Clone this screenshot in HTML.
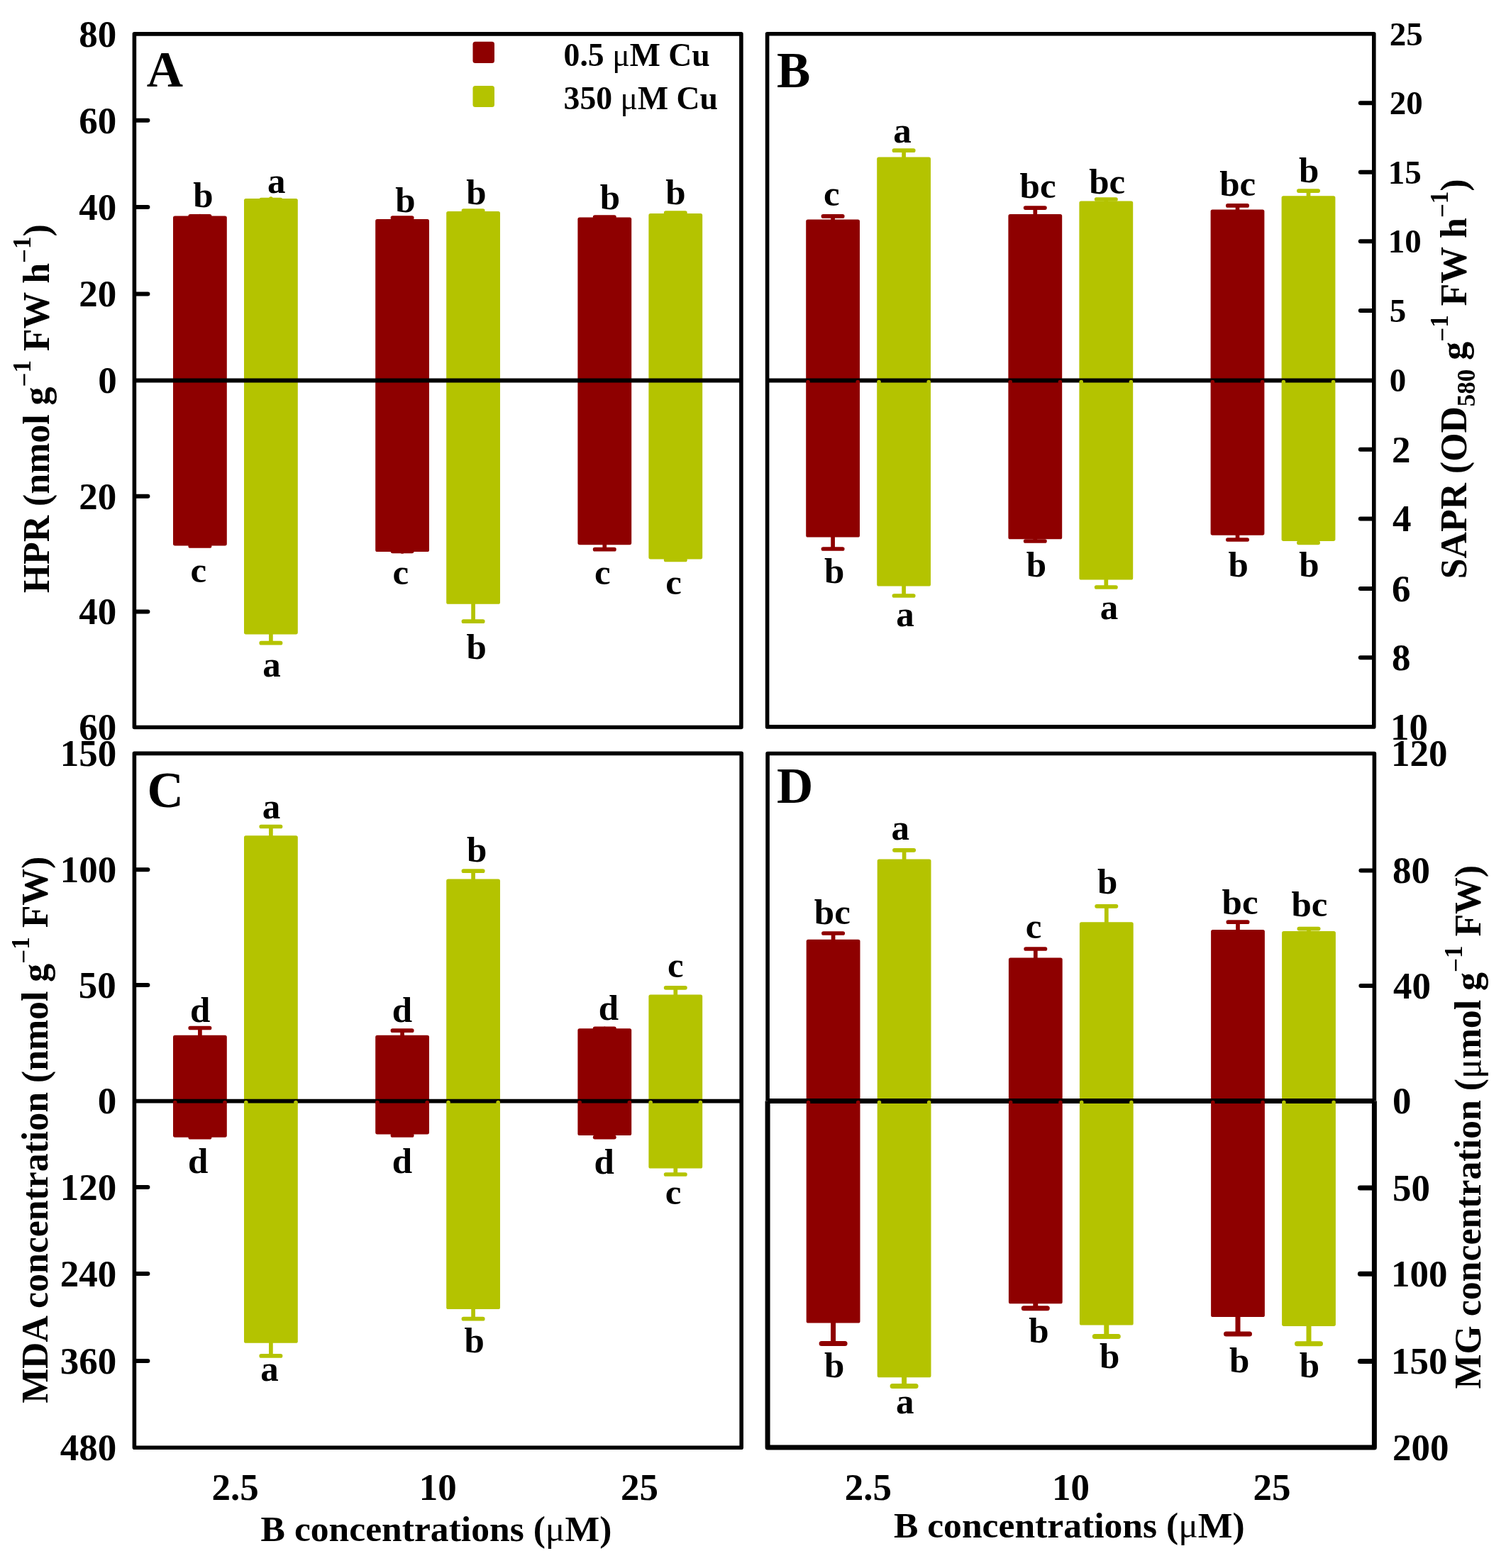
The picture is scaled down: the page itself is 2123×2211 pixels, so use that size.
<!DOCTYPE html><html><head><meta charset="utf-8"><title>Figure</title><style>html,body{margin:0;padding:0;background:#fff;}svg{display:block;}text{font-family:'Liberation Serif', 'Times New Roman', serif;font-weight:bold;fill:#000;}</style></head><body>
<svg width="2123" height="2211" viewBox="0 0 2123 2211">
<rect x="0" y="0" width="2123" height="2211" fill="#fff"/>
<rect x="244" y="304.5" width="75.8" height="464.9" rx="2.6" fill="#8E0000"/>
<path d="M281.9 304.5V304.9M268.25 304.9H295.55" stroke="#8E0000" stroke-width="5.7" stroke-linecap="round" fill="none"/>
<path d="M281.9 769.4V770M268.25 770H295.55" stroke="#8E0000" stroke-width="5.7" stroke-linecap="round" fill="none"/>
<rect x="344" y="280" width="75.8" height="614.4" rx="2.6" fill="#B4C300"/>
<path d="M381.9 280V281.7M368.25 281.7H395.55" stroke="#B4C300" stroke-width="5.7" stroke-linecap="round" fill="none"/>
<path d="M381.9 894.4V906.7M368.25 906.7H395.55" stroke="#B4C300" stroke-width="5.7" stroke-linecap="round" fill="none"/>
<rect x="529.2" y="309.1" width="75.8" height="468.9" rx="2.6" fill="#8E0000"/>
<path d="M567.1 309.1V307.2M553.45 307.2H580.75" stroke="#8E0000" stroke-width="5.7" stroke-linecap="round" fill="none"/>
<path d="M567.1 778V777.3M553.45 777.3H580.75" stroke="#8E0000" stroke-width="5.7" stroke-linecap="round" fill="none"/>
<rect x="629.2" y="298" width="75.8" height="553.8" rx="2.6" fill="#B4C300"/>
<path d="M667.1 298V297M653.45 297H680.75" stroke="#B4C300" stroke-width="5.7" stroke-linecap="round" fill="none"/>
<path d="M667.1 851.8V876.2M653.45 876.2H680.75" stroke="#B4C300" stroke-width="5.7" stroke-linecap="round" fill="none"/>
<rect x="814.4" y="306.6" width="75.8" height="461.6" rx="2.6" fill="#8E0000"/>
<path d="M852.3 306.6V306M838.65 306H865.95" stroke="#8E0000" stroke-width="5.7" stroke-linecap="round" fill="none"/>
<path d="M852.3 768.2V774.7M838.65 774.7H865.95" stroke="#8E0000" stroke-width="5.7" stroke-linecap="round" fill="none"/>
<rect x="914.4" y="301.1" width="75.8" height="487.3" rx="2.6" fill="#B4C300"/>
<path d="M952.3 301.1V300.1M938.65 300.1H965.95" stroke="#B4C300" stroke-width="5.7" stroke-linecap="round" fill="none"/>
<path d="M952.3 788.4V789.5M938.65 789.5H965.95" stroke="#B4C300" stroke-width="5.7" stroke-linecap="round" fill="none"/>
<line x1="189.4" y1="536.5" x2="1044.9" y2="536.5" stroke="#000" stroke-width="5.8"/>
<rect x="189.4" y="47.9" width="855.5" height="977.6" fill="none" stroke="#000" stroke-width="5.6" stroke-linejoin="round"/>
<text x="111.2" y="65.7" font-size="53">80</text>
<line x1="192.4" y1="169.7" x2="208.4" y2="169.7" stroke="#000" stroke-width="6.0" stroke-linecap="round"/>
<text x="111.2" y="187.5" font-size="53">60</text>
<line x1="192.4" y1="292" x2="208.4" y2="292" stroke="#000" stroke-width="6.0" stroke-linecap="round"/>
<text x="111.2" y="309.8" font-size="53">40</text>
<line x1="192.4" y1="414.4" x2="208.4" y2="414.4" stroke="#000" stroke-width="6.0" stroke-linecap="round"/>
<text x="111.2" y="432.2" font-size="53">20</text>
<text x="138.2" y="554.3" font-size="53">0</text>
<line x1="192.4" y1="699.7" x2="208.4" y2="699.7" stroke="#000" stroke-width="6.0" stroke-linecap="round"/>
<text x="111.2" y="717.5" font-size="53">20</text>
<line x1="192.4" y1="862.5" x2="208.4" y2="862.5" stroke="#000" stroke-width="6.0" stroke-linecap="round"/>
<text x="111.2" y="880.3" font-size="53">40</text>
<text x="111.2" y="1043.3" font-size="53">60</text>
<rect x="1136.2" y="309.4" width="75.8" height="448.1" rx="2.6" fill="#8E0000"/>
<path d="M1174.1 309.4V304.9M1160.45 304.9H1187.75" stroke="#8E0000" stroke-width="5.7" stroke-linecap="round" fill="none"/>
<path d="M1174.1 757.5V774M1160.45 774H1187.75" stroke="#8E0000" stroke-width="5.7" stroke-linecap="round" fill="none"/>
<rect x="1236.2" y="221.6" width="75.8" height="604.9" rx="2.6" fill="#B4C300"/>
<path d="M1274.1 221.6V212.2M1260.45 212.2H1287.75" stroke="#B4C300" stroke-width="5.7" stroke-linecap="round" fill="none"/>
<path d="M1274.1 826.5V840M1260.45 840H1287.75" stroke="#B4C300" stroke-width="5.7" stroke-linecap="round" fill="none"/>
<rect x="1421.4" y="302.1" width="75.8" height="458.2" rx="2.6" fill="#8E0000"/>
<path d="M1459.3 302.1V293.1M1445.65 293.1H1472.95" stroke="#8E0000" stroke-width="5.7" stroke-linecap="round" fill="none"/>
<path d="M1459.3 760.3V763M1445.65 763H1472.95" stroke="#8E0000" stroke-width="5.7" stroke-linecap="round" fill="none"/>
<rect x="1521.4" y="283.4" width="75.8" height="534.2" rx="2.6" fill="#B4C300"/>
<path d="M1559.3 283.4V281M1545.65 281H1572.95" stroke="#B4C300" stroke-width="5.7" stroke-linecap="round" fill="none"/>
<path d="M1559.3 817.6V828M1545.65 828H1572.95" stroke="#B4C300" stroke-width="5.7" stroke-linecap="round" fill="none"/>
<rect x="1706.6" y="295.5" width="75.8" height="459.2" rx="2.6" fill="#8E0000"/>
<path d="M1744.5 295.5V289.9M1730.85 289.9H1758.15" stroke="#8E0000" stroke-width="5.7" stroke-linecap="round" fill="none"/>
<path d="M1744.5 754.7V761M1730.85 761H1758.15" stroke="#8E0000" stroke-width="5.7" stroke-linecap="round" fill="none"/>
<rect x="1806.6" y="276.3" width="75.8" height="486.6" rx="2.6" fill="#B4C300"/>
<path d="M1844.5 276.3V269.1M1830.85 269.1H1858.15" stroke="#B4C300" stroke-width="5.7" stroke-linecap="round" fill="none"/>
<path d="M1844.5 762.9V765.3M1830.85 765.3H1858.15" stroke="#B4C300" stroke-width="5.7" stroke-linecap="round" fill="none"/>
<line x1="1081.6" y1="536.5" x2="1936.8" y2="536.5" stroke="#000" stroke-width="5.8"/>
<circle cx="1139" cy="538.5" r="2.8" fill="#8E0000"/>
<circle cx="1209.2" cy="538.5" r="2.8" fill="#8E0000"/>
<circle cx="1239" cy="538.5" r="2.8" fill="#B4C300"/>
<circle cx="1309.2" cy="538.5" r="2.8" fill="#B4C300"/>
<circle cx="1424.2" cy="538.5" r="2.8" fill="#8E0000"/>
<circle cx="1494.4" cy="538.5" r="2.8" fill="#8E0000"/>
<circle cx="1524.2" cy="538.5" r="2.8" fill="#B4C300"/>
<circle cx="1594.4" cy="538.5" r="2.8" fill="#B4C300"/>
<circle cx="1709.4" cy="538.5" r="2.8" fill="#8E0000"/>
<circle cx="1779.6" cy="538.5" r="2.8" fill="#8E0000"/>
<circle cx="1809.4" cy="538.5" r="2.8" fill="#B4C300"/>
<circle cx="1879.6" cy="538.5" r="2.8" fill="#B4C300"/>
<rect x="1081.6" y="47.8" width="855.2" height="977.1" fill="none" stroke="#000" stroke-width="5.6" stroke-linejoin="round"/>
<text x="1958.8" y="63.6" font-size="47">25</text>
<line x1="1933.8" y1="145.2" x2="1917.8" y2="145.2" stroke="#000" stroke-width="6.0" stroke-linecap="round"/>
<text x="1958.8" y="161" font-size="47">20</text>
<line x1="1933.8" y1="242.8" x2="1917.8" y2="242.8" stroke="#000" stroke-width="6.0" stroke-linecap="round"/>
<text x="1956.8" y="258.6" font-size="47">15</text>
<line x1="1933.8" y1="340.2" x2="1917.8" y2="340.2" stroke="#000" stroke-width="6.0" stroke-linecap="round"/>
<text x="1956.8" y="356" font-size="47">10</text>
<line x1="1933.8" y1="438" x2="1917.8" y2="438" stroke="#000" stroke-width="6.0" stroke-linecap="round"/>
<text x="1958.8" y="453.8" font-size="47">5</text>
<text x="1958.8" y="552.3" font-size="47">0</text>
<line x1="1933.8" y1="633.8" x2="1917.8" y2="633.8" stroke="#000" stroke-width="6.0" stroke-linecap="round"/>
<text x="1962" y="651.6" font-size="53">2</text>
<line x1="1933.8" y1="731.5" x2="1917.8" y2="731.5" stroke="#000" stroke-width="6.0" stroke-linecap="round"/>
<text x="1963" y="749.3" font-size="53">4</text>
<line x1="1933.8" y1="830" x2="1917.8" y2="830" stroke="#000" stroke-width="6.0" stroke-linecap="round"/>
<text x="1962" y="847.8" font-size="53">6</text>
<line x1="1933.8" y1="927.2" x2="1917.8" y2="927.2" stroke="#000" stroke-width="6.0" stroke-linecap="round"/>
<text x="1962" y="945" font-size="53">8</text>
<text x="1960" y="1042.7" font-size="53">10</text>
<rect x="244" y="1459.8" width="75.8" height="143.9" rx="2.6" fill="#8E0000"/>
<path d="M281.9 1459.8V1449.5M268.25 1449.5H295.55" stroke="#8E0000" stroke-width="5.7" stroke-linecap="round" fill="none"/>
<path d="M281.9 1603.7V1603.7M268.25 1603.7H295.55" stroke="#8E0000" stroke-width="5.7" stroke-linecap="round" fill="none"/>
<rect x="344" y="1178.3" width="75.8" height="715.5" rx="2.6" fill="#B4C300"/>
<path d="M381.9 1178.3V1165.5M368.25 1165.5H395.55" stroke="#B4C300" stroke-width="5.7" stroke-linecap="round" fill="none"/>
<path d="M381.9 1893.8V1911.9M368.25 1911.9H395.55" stroke="#B4C300" stroke-width="5.7" stroke-linecap="round" fill="none"/>
<rect x="529.2" y="1459.8" width="75.8" height="139.6" rx="2.6" fill="#8E0000"/>
<path d="M567.1 1459.8V1453.2M553.45 1453.2H580.75" stroke="#8E0000" stroke-width="5.7" stroke-linecap="round" fill="none"/>
<path d="M567.1 1599.4V1600.9M553.45 1600.9H580.75" stroke="#8E0000" stroke-width="5.7" stroke-linecap="round" fill="none"/>
<rect x="629.2" y="1239.6" width="75.8" height="606.4" rx="2.6" fill="#B4C300"/>
<path d="M667.1 1239.6V1228.2M653.45 1228.2H680.75" stroke="#B4C300" stroke-width="5.7" stroke-linecap="round" fill="none"/>
<path d="M667.1 1846V1859.7M653.45 1859.7H680.75" stroke="#B4C300" stroke-width="5.7" stroke-linecap="round" fill="none"/>
<rect x="814.4" y="1450.2" width="75.8" height="150.8" rx="2.6" fill="#8E0000"/>
<path d="M852.3 1450.2V1450.3M838.65 1450.3H865.95" stroke="#8E0000" stroke-width="5.7" stroke-linecap="round" fill="none"/>
<path d="M852.3 1601V1603.6M838.65 1603.6H865.95" stroke="#8E0000" stroke-width="5.7" stroke-linecap="round" fill="none"/>
<rect x="914.4" y="1402.5" width="75.8" height="245" rx="2.6" fill="#B4C300"/>
<path d="M952.3 1402.5V1392.8M938.65 1392.8H965.95" stroke="#B4C300" stroke-width="5.7" stroke-linecap="round" fill="none"/>
<path d="M952.3 1647.5V1656M938.65 1656H965.95" stroke="#B4C300" stroke-width="5.7" stroke-linecap="round" fill="none"/>
<line x1="189.4" y1="1552.6" x2="1045.2" y2="1552.6" stroke="#000" stroke-width="5.8"/>
<circle cx="246.8" cy="1554.6" r="2.8" fill="#8E0000"/>
<circle cx="317" cy="1554.6" r="2.8" fill="#8E0000"/>
<circle cx="346.8" cy="1554.6" r="2.8" fill="#B4C300"/>
<circle cx="417" cy="1554.6" r="2.8" fill="#B4C300"/>
<circle cx="532" cy="1554.6" r="2.8" fill="#8E0000"/>
<circle cx="602.2" cy="1554.6" r="2.8" fill="#8E0000"/>
<circle cx="632" cy="1554.6" r="2.8" fill="#B4C300"/>
<circle cx="702.2" cy="1554.6" r="2.8" fill="#B4C300"/>
<circle cx="817.2" cy="1554.6" r="2.8" fill="#8E0000"/>
<circle cx="887.4" cy="1554.6" r="2.8" fill="#8E0000"/>
<circle cx="917.2" cy="1554.6" r="2.8" fill="#B4C300"/>
<circle cx="987.4" cy="1554.6" r="2.8" fill="#B4C300"/>
<rect x="189.4" y="1062.4" width="855.8" height="978.8" fill="none" stroke="#000" stroke-width="5.6" stroke-linejoin="round"/>
<text x="84.7" y="1080.2" font-size="53">150</text>
<line x1="192.4" y1="1226.2" x2="208.4" y2="1226.2" stroke="#000" stroke-width="6.0" stroke-linecap="round"/>
<text x="84.7" y="1244" font-size="53">100</text>
<line x1="192.4" y1="1389" x2="208.4" y2="1389" stroke="#000" stroke-width="6.0" stroke-linecap="round"/>
<text x="110.7" y="1406.8" font-size="53">50</text>
<text x="137.7" y="1570.4" font-size="53">0</text>
<line x1="192.4" y1="1674.1" x2="208.4" y2="1674.1" stroke="#000" stroke-width="6.0" stroke-linecap="round"/>
<text x="84.7" y="1691.9" font-size="53">120</text>
<line x1="192.4" y1="1796" x2="208.4" y2="1796" stroke="#000" stroke-width="6.0" stroke-linecap="round"/>
<text x="84.7" y="1813.8" font-size="53">240</text>
<line x1="192.4" y1="1918.9" x2="208.4" y2="1918.9" stroke="#000" stroke-width="6.0" stroke-linecap="round"/>
<text x="84.7" y="1936.7" font-size="53">360</text>
<text x="84.7" y="2059" font-size="53">480</text>
<rect x="1136.7" y="1324.8" width="75.8" height="540.7" rx="2.6" fill="#8E0000"/>
<path d="M1174.6 1324.8V1316M1160.95 1316H1188.25" stroke="#8E0000" stroke-width="5.7" stroke-linecap="round" fill="none"/>
<path d="M1174.6 1865.5V1894.4M1158.1 1894.4H1191.1" stroke="#8E0000" stroke-width="7.0" stroke-linecap="round" fill="none"/>
<rect x="1236.7" y="1211.5" width="75.8" height="730.8" rx="2.6" fill="#B4C300"/>
<path d="M1274.6 1211.5V1198.8M1260.95 1198.8H1288.25" stroke="#B4C300" stroke-width="5.7" stroke-linecap="round" fill="none"/>
<path d="M1274.6 1942.3V1954.5M1258.1 1954.5H1291.1" stroke="#B4C300" stroke-width="7.0" stroke-linecap="round" fill="none"/>
<rect x="1421.9" y="1350.4" width="75.8" height="487.9" rx="2.6" fill="#8E0000"/>
<path d="M1459.8 1350.4V1338M1446.15 1338H1473.45" stroke="#8E0000" stroke-width="5.7" stroke-linecap="round" fill="none"/>
<path d="M1459.8 1838.3V1844.8M1443.3 1844.8H1476.3" stroke="#8E0000" stroke-width="7.0" stroke-linecap="round" fill="none"/>
<rect x="1521.9" y="1300.2" width="75.8" height="568.3" rx="2.6" fill="#B4C300"/>
<path d="M1559.8 1300.2V1277.8M1546.15 1277.8H1573.45" stroke="#B4C300" stroke-width="5.7" stroke-linecap="round" fill="none"/>
<path d="M1559.8 1868.5V1884.5M1543.3 1884.5H1576.3" stroke="#B4C300" stroke-width="7.0" stroke-linecap="round" fill="none"/>
<rect x="1707.1" y="1311.1" width="75.8" height="545.9" rx="2.6" fill="#8E0000"/>
<path d="M1745 1311.1V1300.2M1731.35 1300.2H1758.65" stroke="#8E0000" stroke-width="5.7" stroke-linecap="round" fill="none"/>
<path d="M1745 1857V1881M1728.5 1881H1761.5" stroke="#8E0000" stroke-width="7.0" stroke-linecap="round" fill="none"/>
<rect x="1807.1" y="1313.1" width="75.8" height="556.8" rx="2.6" fill="#B4C300"/>
<path d="M1845 1313.1V1309.6M1831.35 1309.6H1858.65" stroke="#B4C300" stroke-width="5.7" stroke-linecap="round" fill="none"/>
<path d="M1845 1869.9V1894.7M1828.5 1894.7H1861.5" stroke="#B4C300" stroke-width="7.0" stroke-linecap="round" fill="none"/>
<line x1="1082.1" y1="1552.6" x2="1937.4" y2="1552.6" stroke="#000" stroke-width="7.0"/>
<circle cx="1139.5" cy="1554.6" r="2.8" fill="#8E0000"/>
<circle cx="1209.7" cy="1554.6" r="2.8" fill="#8E0000"/>
<circle cx="1239.5" cy="1554.6" r="2.8" fill="#B4C300"/>
<circle cx="1309.7" cy="1554.6" r="2.8" fill="#B4C300"/>
<circle cx="1424.7" cy="1554.6" r="2.8" fill="#8E0000"/>
<circle cx="1494.9" cy="1554.6" r="2.8" fill="#8E0000"/>
<circle cx="1524.7" cy="1554.6" r="2.8" fill="#B4C300"/>
<circle cx="1594.9" cy="1554.6" r="2.8" fill="#B4C300"/>
<circle cx="1709.9" cy="1554.6" r="2.8" fill="#8E0000"/>
<circle cx="1780.1" cy="1554.6" r="2.8" fill="#8E0000"/>
<circle cx="1809.9" cy="1554.6" r="2.8" fill="#B4C300"/>
<circle cx="1880.1" cy="1554.6" r="2.8" fill="#B4C300"/>
<path d="M1082.1 1552.6V1062.5H1937.4V1552.6" fill="none" stroke="#000" stroke-width="5.6" stroke-linejoin="round"/>
<path d="M1082.1 1552.6V2041H1937.4V1552.6" fill="none" stroke="#000" stroke-width="7" stroke-linejoin="round"/>
<text x="1960.9" y="1080.3" font-size="53">120</text>
<line x1="1934.4" y1="1227.5" x2="1918.4" y2="1227.5" stroke="#000" stroke-width="6.0" stroke-linecap="round"/>
<text x="1962.9" y="1245.3" font-size="53">80</text>
<line x1="1934.4" y1="1390.1" x2="1918.4" y2="1390.1" stroke="#000" stroke-width="6.0" stroke-linecap="round"/>
<text x="1963.9" y="1407.9" font-size="53">40</text>
<text x="1962.9" y="1570.4" font-size="53">0</text>
<line x1="1933.9" y1="1675" x2="1917.4" y2="1675" stroke="#000" stroke-width="7.0" stroke-linecap="round"/>
<text x="1962.9" y="1692.8" font-size="53">50</text>
<line x1="1933.9" y1="1796.2" x2="1917.4" y2="1796.2" stroke="#000" stroke-width="7.0" stroke-linecap="round"/>
<text x="1960.9" y="1814" font-size="53">100</text>
<line x1="1933.9" y1="1919.5" x2="1917.4" y2="1919.5" stroke="#000" stroke-width="7.0" stroke-linecap="round"/>
<text x="1960.9" y="1937.3" font-size="53">150</text>
<text x="1962.9" y="2058.8" font-size="53">200</text>
<text x="272.35" y="291.95" font-size="51">b</text>
<text x="376.9" y="271.6" font-size="51">a</text>
<text x="557.15" y="298.5" font-size="51">b</text>
<text x="657.25" y="288.4" font-size="51">b</text>
<text x="845.85" y="295" font-size="51">b</text>
<text x="938.35" y="288.15" font-size="51">b</text>
<text x="268.6" y="820.9" font-size="51">c</text>
<text x="370.35" y="953.75" font-size="51">a</text>
<text x="553.5" y="824.45" font-size="51">c</text>
<text x="657.6" y="929.1" font-size="51">b</text>
<text x="838.1" y="824.15" font-size="51">c</text>
<text x="938.2" y="837.55" font-size="51">c</text>
<text x="1161.1" y="290.4" font-size="51">c</text>
<text x="1259.15" y="200.6" font-size="51">a</text>
<text x="1437.6" y="278.7" font-size="51">bc</text>
<text x="1535.2" y="272.95" font-size="51">bc</text>
<text x="1719.15" y="276.25" font-size="51">bc</text>
<text x="1831" y="257.15" font-size="51">b</text>
<text x="1162.1" y="822" font-size="51">b</text>
<text x="1263.25" y="882.95" font-size="51">a</text>
<text x="1446.75" y="812.5" font-size="51">b</text>
<text x="1550.8" y="872.9" font-size="51">a</text>
<text x="1731.6" y="812.85" font-size="51">b</text>
<text x="1831.2" y="812.85" font-size="51">b</text>
<text x="268.1" y="1440.95" font-size="51">d</text>
<text x="369.85" y="1154.05" font-size="51">a</text>
<text x="552.7" y="1440.95" font-size="51">d</text>
<text x="658" y="1214.55" font-size="51">b</text>
<text x="843.75" y="1437.6" font-size="51">d</text>
<text x="941.1" y="1377.85" font-size="51">c</text>
<text x="265.05" y="1654.15" font-size="51">d</text>
<text x="367.15" y="1947.45" font-size="51">a</text>
<text x="552.7" y="1654.15" font-size="51">d</text>
<text x="654.45" y="1906.9" font-size="51">b</text>
<text x="837.4" y="1654.5" font-size="51">d</text>
<text x="937.8" y="1697.6" font-size="51">c</text>
<text x="1147.85" y="1302.8" font-size="51">bc</text>
<text x="1256.45" y="1184.2" font-size="51">a</text>
<text x="1445.65" y="1323.3" font-size="51">c</text>
<text x="1546.95" y="1260.2" font-size="51">b</text>
<text x="1722.6" y="1289.4" font-size="51">bc</text>
<text x="1820.4" y="1292" font-size="51">bc</text>
<text x="1162.1" y="1941.9" font-size="51">b</text>
<text x="1263" y="1992.6" font-size="51">a</text>
<text x="1450.2" y="1893.4" font-size="51">b</text>
<text x="1549.95" y="1929" font-size="51">b</text>
<text x="1732.9" y="1934.95" font-size="51">b</text>
<text x="1831.8" y="1942.1" font-size="51">b</text>
<text x="206.7" y="122.1" font-size="71">A</text>
<text x="1094.9" y="123.1" font-size="71">B</text>
<text x="207.5" y="1137.9" font-size="71">C</text>
<text x="1095.05" y="1132.35" font-size="71">D</text>
<text transform="translate(68.6 836.2) rotate(-90)" x="0" y="0" font-size="51.8">HPR (nmol g<tspan font-size="35" dy="-22.5">−</tspan><tspan font-size="35" dy="-3.5">1</tspan><tspan dy="26"> FW h</tspan><tspan font-size="35" dy="-22.5">−</tspan><tspan font-size="35" dy="-3.5">1</tspan><tspan dy="26">)</tspan></text>
<text transform="translate(2067.3 816.3) rotate(-90)" x="0" y="0" font-size="51.8">SAPR (OD<tspan font-size="35" dy="12">580</tspan><tspan dy="-12"> g</tspan><tspan font-size="35" dy="-22.5">−</tspan><tspan font-size="35" dy="-3.5">1</tspan><tspan dy="26"> FW h</tspan><tspan font-size="35" dy="-22.5">−</tspan><tspan font-size="35" dy="-3.5">1</tspan><tspan dy="26">)</tspan></text>
<text transform="translate(67.0 1978.8) rotate(-90)" x="0" y="0" font-size="51.8">MDA concentration (nmol g<tspan font-size="35" dy="-22.5">−</tspan><tspan font-size="35" dy="-3.5">1</tspan><tspan dy="26"> FW)</tspan></text>
<text transform="translate(2086.9 1958.4) rotate(-90)" x="0" y="0" font-size="51.8">MG concentration (<tspan font-weight="normal">μ</tspan>mol g<tspan font-size="35" dy="-22.5">−</tspan><tspan font-size="35" dy="-3.5">1</tspan><tspan dy="26"> FW)</tspan></text>
<text x="331.5" y="2114.5" font-size="53" text-anchor="middle">2.5</text>
<text x="617.3" y="2114.5" font-size="53" text-anchor="middle">10</text>
<text x="901.4" y="2114.5" font-size="53" text-anchor="middle">25</text>
<text x="1223.8" y="2114.5" font-size="53" text-anchor="middle">2.5</text>
<text x="1509.5" y="2114.5" font-size="53" text-anchor="middle">10</text>
<text x="1793.0" y="2114.5" font-size="53" text-anchor="middle">25</text>
<text x="615.0" y="2172.7" font-size="51.6" text-anchor="middle">B concentrations (<tspan font-weight="normal">μ</tspan>M)</text>
<text x="1507.3" y="2168.3" font-size="51.6" text-anchor="middle">B concentrations (<tspan font-weight="normal">μ</tspan>M)</text>
<rect x="666.5" y="58.7" width="30.5" height="30.3" rx="3.5" fill="#8E0000"/>
<rect x="666.5" y="120.9" width="30.5" height="30.2" rx="3.5" fill="#B4C300"/>
<text x="794.6" y="92.5" font-size="45.7">0.5 <tspan font-weight="normal">μ</tspan>M Cu</text>
<text x="794.6" y="153.6" font-size="45.7">350 <tspan font-weight="normal">μ</tspan>M Cu</text>
</svg></body></html>
